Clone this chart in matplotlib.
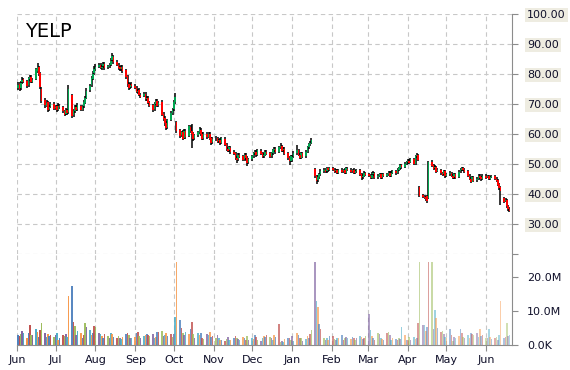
import numpy as np
import pandas as pd
import matplotlib
matplotlib.use('Agg')
import matplotlib.pyplot as plt
import matplotlib.dates as mdates

ticker = 'YELP'

# daily prices, one row per month (Jun 2014 .. Jun 2015)
open_ = [
    75.5, 76.8, 75.2, 77.2, 78.3, 77.6, 76.2, 78.2, 79.1, 77.3, 78.4, 81.0, 82.3, 80.2, 75.0, 71.2, 69.3, 70.6, 68.2, 69.2, 70.1,
    68.6, 69.2, 68.1, 69.4, 68.9, 67.6, 66.7, 68.1, 67.2, 73.0, 66.2, 67.6, 69.1, 68.2, 69.4, 68.1, 69.2, 70.4, 72.1, 74.6, 76.2, 78.4, 80.2,
    81.6, 82.4, 83.1, 82.1, 82.6, 83.4, 82.2, 82.6, 83.1, 84.6, 85.8, 84.1, 83.1, 82.2, 81.6, 82.4, 81.2, 79.2, 76.6, 75.6, 76.6,
    76.1, 75.4, 74.1, 74.6, 73.1, 72.6, 73.4, 71.6, 72.1, 70.6, 69.6, 68.2, 70.1, 71.1, 69.6, 70.8, 66.6, 65.2, 63.6, 62.2, 64.6, 67.1,
    68.2, 70.6, 64.0, 61.2, 59.6, 60.6, 58.6, 61.1, 59.2, 62.4, 61.1, 60.2, 58.6, 59.6, 60.6, 61.4, 60.1, 58.6, 60.1, 59.1, 60.1, 58.6, 57.2,
    58.2, 58.6, 57.6, 58.1, 57.1, 58.4, 56.6, 55.1, 54.6, 55.4, 54.1, 53.6, 52.1, 51.6, 53.1, 52.6, 51.6, 53.1, 52.1, 50.6,
    51.6, 52.6, 53.6, 54.1, 53.1, 54.4, 53.6, 52.6, 53.1, 54.1, 53.6, 52.6, 53.6, 54.6, 55.1, 54.1, 55.6, 56.1, 54.6, 55.1, 53.6, 52.1, 51.1,
    51.2, 52.6, 53.6, 54.6, 53.1, 52.1, 53.6, 52.6, 54.1, 55.6, 56.6, 57.1, 48.5, 46.0, 44.6, 45.6, 46.6, 47.6, 48.1, 47.6, 48.6, 48.1,
    48.6, 48.1, 47.6, 48.1, 47.1, 48.1, 47.6, 48.1, 47.1, 48.4, 48.1, 47.6, 48.1, 47.1, 47.6, 48.1, 46.6, 45.6, 46.1, 47.1,
    46.6, 46.1, 45.4, 46.6, 47.1, 45.6, 46.1, 46.6, 45.6, 46.6, 46.1, 46.6, 47.1, 46.1, 47.1, 47.6, 47.1, 48.1, 48.6, 49.6, 49.1, 50.1,
    50.6, 51.1, 50.6, 51.6, 50.1, 52.6, 53.1, 42.4, 39.6, 39.1, 38.9, 39.3, 38.6, 50.6, 49.6, 48.6, 49.1, 47.6, 48.1, 47.1, 46.6, 47.6,
    46.1, 46.6, 47.1, 46.1, 45.6, 46.6, 45.8, 47.6, 48.1, 48.6, 48.1, 47.6, 46.1, 45.1, 44.1, 45.6, 44.6, 45.1, 46.1, 45.6, 45.1,
    46.1, 45.6, 46.1, 45.1, 45.6, 46.1, 45.1, 44.6, 43.2, 42.2, 38.6, 37.6, 38.1, 36.1, 35.1,
]
high = [
    77.2, 77.4, 77.6, 78.9, 78.8, 78.1, 79.0, 79.8, 79.6, 78.6, 82.0, 83.6, 82.8, 80.6, 75.6, 71.9, 71.4, 71.0, 69.8, 70.8, 70.6,
    69.8, 69.6, 70.2, 70.0, 69.3, 68.0, 68.6, 68.5, 76.3, 73.4, 68.2, 69.8, 69.6, 70.3, 69.8, 69.7, 71.2, 72.8, 75.3, 76.8, 79.2, 81.0, 82.6,
    83.2, 83.7, 83.6, 83.0, 84.1, 83.9, 83.1, 83.6, 85.2, 87.0, 86.3, 84.6, 83.6, 82.7, 83.1, 82.9, 81.8, 79.8, 77.2, 77.1, 77.2,
    76.6, 76.0, 75.1, 75.2, 73.6, 74.1, 73.9, 72.6, 72.7, 71.1, 70.0, 70.6, 71.7, 71.6, 71.1, 71.2, 67.2, 65.9, 64.2, 65.1, 67.6, 68.7,
    71.2, 73.8, 64.5, 61.8, 61.1, 61.2, 61.6, 61.7, 63.1, 63.0, 63.5, 60.7, 60.1, 61.1, 62.2, 61.9, 60.6, 60.6, 60.7, 60.6, 60.7, 59.1, 59.1,
    59.2, 59.1, 58.5, 58.6, 59.1, 58.9, 57.1, 55.7, 56.1, 55.9, 54.6, 54.1, 52.7, 53.6, 53.7, 53.1, 53.6, 53.6, 52.6, 51.9,
    53.0, 54.1, 54.6, 54.6, 55.1, 55.0, 54.1, 53.6, 54.6, 54.7, 54.1, 54.1, 55.1, 55.7, 55.6, 56.1, 56.9, 56.5, 55.6, 55.6, 54.1, 52.6, 53.1,
    53.1, 54.2, 56.2, 55.1, 53.6, 54.1, 54.0, 54.6, 56.1, 57.1, 57.6, 58.6, 48.8, 46.4, 46.2, 47.1, 48.2, 48.7, 48.6, 49.1, 48.8, 49.1,
    49.0, 48.6, 48.5, 48.5, 48.5, 48.6, 48.5, 48.6, 49.0, 48.9, 48.6, 48.5, 48.6, 47.9, 48.5, 48.5, 47.1, 46.6, 47.6, 47.5,
    47.1, 46.6, 47.3, 47.6, 47.5, 46.6, 47.1, 47.1, 47.0, 47.1, 47.0, 47.6, 47.6, 47.6, 48.1, 48.1, 48.6, 49.1, 50.1, 50.1, 50.6, 51.1,
    51.6, 51.6, 52.1, 51.9, 52.9, 53.6, 53.4, 42.8, 40.1, 39.6, 39.5, 39.7, 51.0, 51.2, 49.9, 49.6, 49.3, 48.6, 48.4, 47.5, 48.0, 47.9,
    47.1, 47.6, 47.5, 46.6, 47.0, 47.1, 47.9, 48.6, 49.1, 49.1, 48.6, 47.9, 46.6, 45.6, 46.1, 45.9, 45.6, 46.6, 46.6, 46.1, 46.6,
    46.6, 46.5, 46.4, 45.9, 46.5, 46.4, 45.6, 45.0, 43.7, 42.6, 39.0, 38.6, 38.4, 36.5, 35.6,
]
low = [
    74.6, 74.3, 74.8, 76.7, 77.0, 75.4, 75.8, 77.6, 77.0, 76.9, 78.0, 80.5, 79.5, 75.0, 70.3, 68.8, 68.9, 67.4, 67.6, 68.6, 67.9,
    68.1, 67.5, 67.8, 68.5, 67.0, 65.9, 66.2, 66.4, 66.8, 65.2, 65.8, 67.1, 67.6, 67.8, 67.6, 67.8, 68.8, 70.0, 71.8, 74.0, 75.8, 77.9, 79.6,
    81.0, 81.9, 81.6, 81.5, 82.1, 81.5, 81.8, 82.0, 82.7, 84.2, 83.5, 82.6, 81.5, 80.9, 81.1, 80.5, 78.5, 75.8, 74.8, 75.1, 75.3,
    75.0, 73.6, 73.5, 72.6, 71.9, 72.2, 71.0, 71.1, 69.9, 68.9, 67.3, 67.6, 69.6, 68.9, 69.1, 65.9, 64.4, 62.8, 61.4, 61.8, 64.2, 66.4,
    67.8, 70.1, 60.2, 58.8, 59.0, 57.9, 58.2, 58.4, 58.9, 60.5, 55.5, 57.8, 58.1, 59.1, 60.1, 59.4, 57.9, 58.1, 58.4, 58.6, 58.0, 56.4, 56.7,
    57.7, 57.0, 57.1, 56.5, 56.6, 56.0, 54.4, 53.9, 54.1, 53.5, 52.9, 51.4, 50.2, 51.1, 52.0, 51.0, 51.1, 51.5, 49.3, 50.1,
    51.1, 52.0, 53.0, 52.5, 52.6, 53.0, 52.0, 52.0, 52.6, 53.0, 52.0, 52.0, 53.1, 54.1, 53.5, 53.6, 55.0, 54.0, 54.1, 53.0, 51.5, 49.8, 50.6,
    50.6, 52.1, 53.1, 52.6, 51.6, 51.6, 52.0, 52.1, 53.6, 55.1, 56.1, 56.6, 45.4, 43.2, 44.0, 45.0, 46.1, 47.1, 47.0, 47.1, 47.5, 47.6,
    47.6, 47.1, 47.2, 46.6, 46.7, 47.1, 47.1, 46.6, 46.7, 47.6, 47.1, 47.1, 46.6, 46.7, 47.1, 46.0, 44.8, 45.0, 45.6, 46.0,
    45.6, 45.0, 45.0, 46.1, 45.0, 45.1, 45.6, 45.0, 45.1, 45.6, 45.7, 46.1, 45.6, 45.6, 46.6, 46.5, 46.6, 47.6, 48.1, 48.5, 48.6, 49.6,
    50.0, 50.0, 50.2, 49.6, 49.8, 52.1, 51.0, 39.0, 38.6, 38.3, 37.8, 37.0, 38.2, 49.0, 48.0, 48.2, 47.0, 47.2, 46.5, 46.0, 46.2, 45.5,
    45.6, 45.9, 45.6, 45.0, 45.1, 45.0, 45.4, 47.1, 47.6, 47.6, 47.0, 45.6, 44.6, 43.6, 43.9, 44.0, 44.1, 44.7, 45.0, 44.5, 44.7,
    45.0, 45.2, 44.6, 44.6, 45.2, 44.6, 44.0, 42.6, 41.5, 36.2, 37.0, 37.2, 35.5, 34.5, 34.0,
]
close = [
    76.5, 75.0, 77.0, 78.0, 77.5, 76.0, 78.5, 79.0, 77.5, 78.0, 81.5, 82.5, 80.0, 75.5, 71.0, 69.5, 70.5, 68.0, 69.0, 70.0, 68.5,
    69.0, 68.0, 69.5, 69.0, 67.5, 66.5, 68.0, 67.0, 75.0, 66.0, 67.5, 69.0, 68.0, 69.5, 68.0, 69.0, 70.5, 72.0, 74.5, 76.0, 78.5, 80.0, 81.5,
    82.5, 83.0, 82.0, 82.5, 83.5, 82.0, 82.5, 83.0, 84.5, 86.0, 84.0, 83.0, 82.0, 81.5, 82.5, 81.0, 79.0, 76.5, 75.5, 76.5, 76.0,
    75.5, 74.0, 74.5, 73.0, 72.5, 73.5, 71.5, 72.0, 70.5, 69.5, 68.0, 70.0, 71.0, 69.5, 70.5, 66.5, 65.0, 63.5, 62.0, 64.5, 67.0, 68.0,
    70.5, 72.5, 61.0, 59.5, 60.5, 58.5, 61.0, 59.0, 62.5, 61.0, 60.0, 58.5, 59.5, 60.5, 61.5, 60.0, 58.5, 60.0, 59.0, 60.0, 58.5, 57.0, 58.5,
    58.5, 57.5, 58.0, 57.0, 58.5, 56.5, 55.0, 54.5, 55.5, 54.0, 53.5, 52.0, 51.5, 53.0, 52.5, 51.5, 53.0, 52.0, 50.5, 51.5,
    52.5, 53.5, 54.0, 53.0, 54.5, 53.5, 52.5, 53.0, 54.0, 53.5, 52.5, 53.5, 54.5, 55.0, 54.0, 55.5, 56.0, 54.5, 55.0, 53.5, 52.0, 51.0, 52.5,
    52.5, 53.5, 54.5, 53.0, 52.0, 53.5, 52.5, 54.0, 55.5, 56.5, 57.0, 58.0, 46.0, 44.5, 45.5, 46.5, 47.5, 48.0, 47.5, 48.5, 48.0, 48.5,
    48.0, 47.5, 48.0, 47.0, 48.0, 47.5, 48.0, 47.0, 48.5, 48.0, 47.5, 48.0, 47.0, 47.5, 48.0, 46.5, 45.5, 46.0, 47.0, 46.5,
    46.0, 45.5, 46.5, 47.0, 45.5, 46.0, 46.5, 45.5, 46.5, 46.0, 46.5, 47.0, 46.0, 47.0, 47.5, 47.0, 48.0, 48.5, 49.5, 49.0, 50.0, 50.5,
    51.0, 50.5, 51.5, 50.0, 52.5, 53.0, 51.5, 39.5, 39.0, 38.8, 38.2, 37.8, 50.5, 49.5, 48.5, 49.0, 47.5, 48.0, 47.0, 46.5, 47.5, 46.0,
    46.5, 47.0, 46.0, 45.5, 46.5, 45.5, 47.5, 48.0, 48.5, 48.0, 47.5, 46.0, 45.0, 44.0, 45.5, 44.5, 45.0, 46.0, 45.5, 45.0, 46.0,
    45.5, 46.0, 45.0, 45.5, 46.0, 45.0, 44.5, 43.0, 42.0, 41.0, 37.5, 38.0, 36.0, 35.0, 34.5,
]
# volume in millions
volume = [
    3.0, 2.6, 3.2, 4.2, 3.5, 2.2, 3.4, 5.9, 3.0, 2.8, 4.6, 3.8, 2.4, 4.4, 6.5, 3.6, 2.4, 3.2, 2.6, 3.0, 2.4,
    2.8, 3.4, 1.6, 2.0, 3.0, 2.6, 3.2, 2.4, 14.4, 17.4, 6.9, 5.6, 3.0, 4.0, 3.4, 2.2, 3.0, 6.5, 5.2, 4.4, 2.8, 3.6, 5.6,
    5.2, 3.6, 3.2, 2.6, 2.2, 3.2, 2.6, 2.0, 3.4, 3.2, 2.4, 2.0, 2.6, 2.0, 1.8, 2.4, 3.2, 3.6, 2.8, 2.0, 2.2,
    2.4, 3.6, 3.8, 2.6, 2.0, 2.6, 3.0, 3.2, 2.8, 2.6, 3.2, 2.2, 2.4, 3.8, 3.8, 4.0, 2.6, 3.0, 3.6, 2.6, 3.2, 2.4,
    3.2, 8.3, 24.4, 7.4, 5.0, 3.6, 2.8, 3.8, 3.2, 4.6, 6.9, 3.2, 2.2, 3.4, 2.8, 3.6, 2.0, 1.8, 3.2, 2.8, 3.8, 2.4, 2.6,
    2.2, 2.8, 2.0, 1.6, 1.4, 1.2, 1.8, 2.4, 1.6, 1.4, 2.0, 2.6, 2.2, 1.8, 1.6, 2.4, 2.0, 1.6, 2.6, 1.4,
    2.2, 1.8, 2.8, 2.4, 1.6, 1.2, 2.0, 2.6, 2.4, 3.0, 2.4, 2.0, 1.6, 3.0, 2.4, 6.2, 1.0, 1.2, 1.0, 1.8, 2.2, 2.0, 1.4,
    2.6, 1.2, 3.4, 2.8, 2.2, 2.0, 1.2, 1.8, 2.6, 2.0, 3.2, 4.4, 24.4, 13.0, 11.3, 6.2, 4.7, 2.0, 1.4, 2.0, 1.6, 2.6,
    2.6, 1.8, 1.4, 2.0, 2.2, 3.0, 1.6, 2.0, 2.4, 2.0, 1.8, 2.4, 2.2, 1.6, 2.0, 2.6, 2.4, 1.8, 2.0, 2.6,
    9.1, 4.4, 2.6, 2.0, 1.6, 3.6, 3.2, 2.2, 1.8, 1.4, 3.4, 3.8, 3.0, 1.6, 2.0, 1.8, 1.4, 2.2, 1.8, 5.3, 2.8, 1.6,
    1.6, 2.4, 1.6, 2.4, 1.8, 2.2, 6.5, 24.4, 5.9, 6.0, 4.0, 5.2, 24.4, 24.4, 4.6, 10.3, 8.0, 5.0, 3.8, 4.2, 3.2, 2.4,
    2.0, 4.6, 3.0, 1.2, 2.4, 2.2, 2.6, 4.8, 3.6, 2.4, 2.2, 2.8, 2.2, 3.4, 3.2, 2.8, 3.6, 2.4, 4.8, 2.6, 3.0,
    2.2, 2.0, 4.8, 2.4, 1.8, 2.2, 2.4, 1.6, 2.8, 13.0, 2.2, 2.4, 6.5, 2.6, 2.8,
]

price_ticks = [30, 40, 50, 60, 70, 80, 90, 100]
vol_ticks = [0, 10, 20]
vol_labels = ['0.0K', '10.0M', '20.0M']

dates = pd.bdate_range('2014-06-02', periods=len(close))
o = np.array(open_)
h = np.array(high)
l = np.array(low)
c = np.array(close)
v = np.array(volume)

grid_kw = dict(color='#c8c8c8', linestyle=(0, (4, 3)), linewidth=0.8)
txt = '#10102a'
axis_col = '#8c8c8c'

fig = plt.figure(figsize=(5.7, 3.7), dpi=100)
W, H = 570, 370
ax = fig.add_axes([17 / W, 1 - 254 / H, 495 / W, 240 / H])
axv = fig.add_axes([17 / W, 1 - 345 / H, 495 / W, 91 / H], sharex=ax)

# candles
up = c >= o
ax.vlines(dates, l, h, color='black', linewidth=1.1, zorder=2)
ax.bar(dates[up], (c - o)[up], bottom=o[up], width=1.3, color='#00a651', zorder=3)
ax.bar(dates[~up], (c - o)[~up], bottom=o[~up], width=1.3, color='#ff0000', zorder=3)

# volume, coloured bars fading towards the right
palette = ['#4f81bd', '#c0504d', '#9bbb59', '#8064a2', '#4bacc6', '#f79646']
alphas = np.linspace(1.0, 0.45, len(v))
for i in range(len(v)):
    axv.bar(dates[i], v[i], width=1.4, color=palette[i % len(palette)], alpha=alphas[i], zorder=2)

months = mdates.MonthLocator()
ax.set_xlim(pd.Timestamp('2014-06-01'), pd.Timestamp('2015-06-21'))
ax.xaxis.set_major_locator(months)
axv.xaxis.set_major_formatter(mdates.DateFormatter('%b'))

ax.set_ylim(20, 100)
ax.set_yticks([20] + price_ticks)
ax.set_yticklabels([''] + ['%.2f' % t for t in price_ticks])
ax.yaxis.tick_right()
ax.tick_params(axis='y', direction='out', length=4, color=axis_col, labelsize=8, labelcolor=txt, pad=7)
ax.tick_params(axis='x', length=0, labelbottom=False)
for lab in ax.get_yticklabels():
    lab.set_bbox(dict(facecolor='#eeece1', edgecolor='none', pad=1.5))
ax.grid(True, **grid_kw)
ax.set_axisbelow(True)
for s in ['top', 'left', 'bottom']:
    ax.spines[s].set_visible(False)
ax.spines['right'].set_color(axis_col)

axv.set_ylim(0, 26.8)
axv.set_yticks(vol_ticks)
axv.set_yticklabels(vol_labels)
axv.yaxis.tick_right()
axv.tick_params(axis='y', direction='out', length=4, color=axis_col, labelsize=8, labelcolor=txt, pad=7)
axv.tick_params(axis='x', direction='out', length=4, color=axis_col, labelsize=8, labelcolor=txt, pad=3)
axv.grid(True, axis='x', **grid_kw)
axv.set_axisbelow(True)
for s in ['top', 'left']:
    axv.spines[s].set_visible(False)
axv.spines['right'].set_color(axis_col)
axv.spines['bottom'].set_color(axis_col)

fig.text(25 / W, 1 - 37 / H, ticker, fontsize=14, color='black', va='baseline')

plt.savefig('out.png', dpi=100)
